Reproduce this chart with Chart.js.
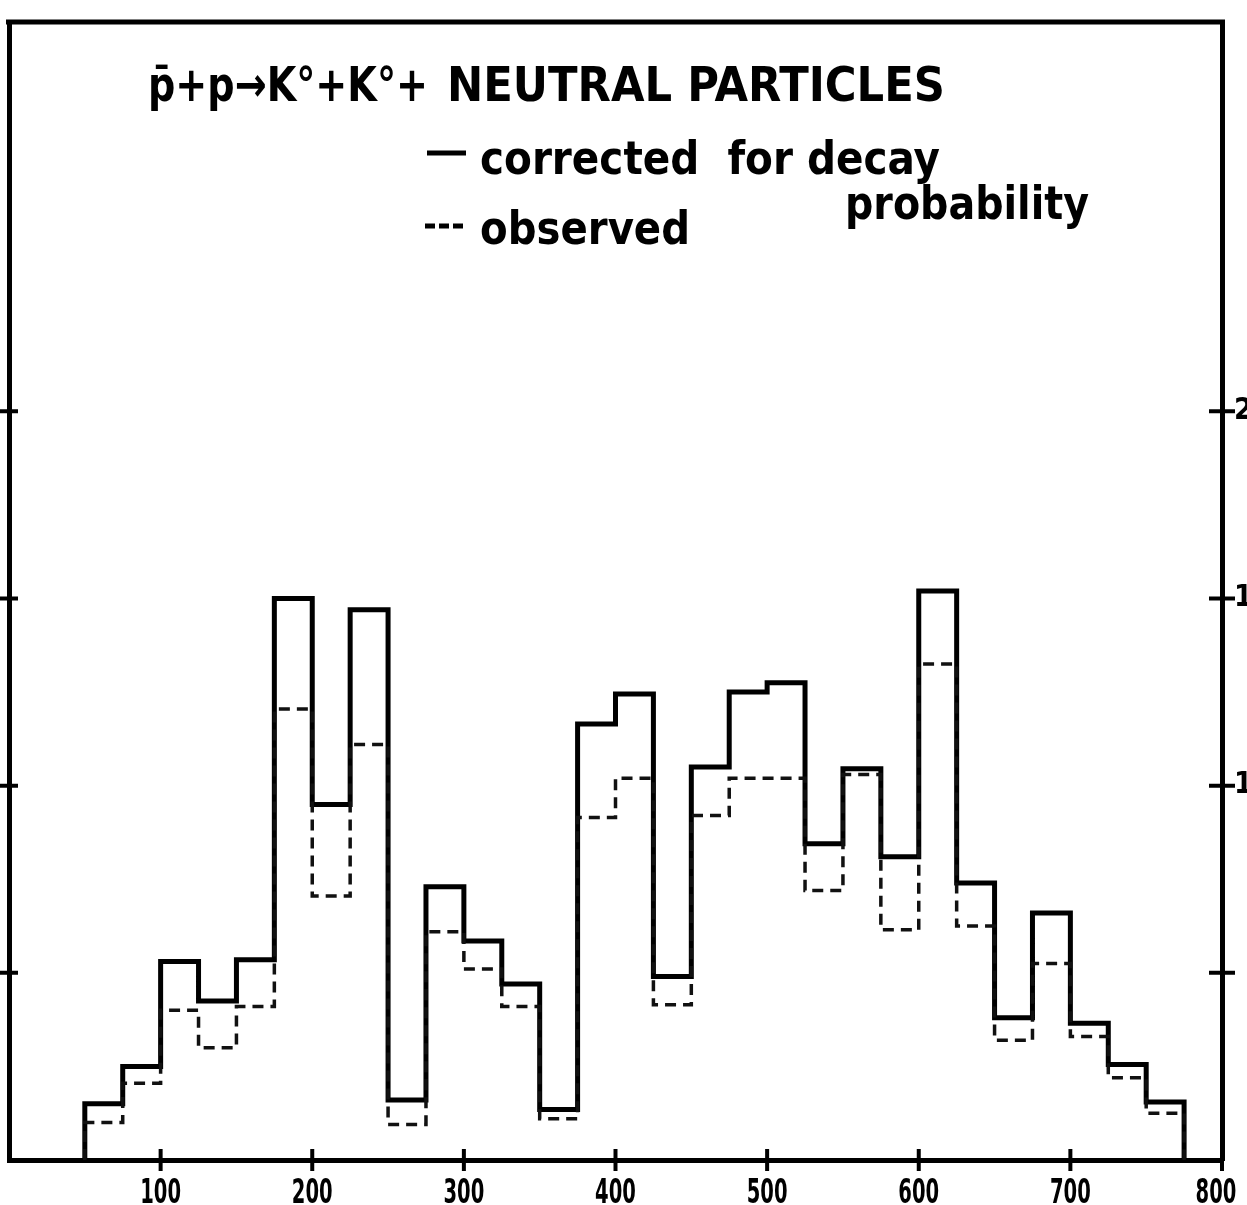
<!DOCTYPE html>
<html>
<head>
<meta charset="utf-8">
<script src="https://cdn.jsdelivr.net/npm/chart.js@4.4.1/dist/chart.umd.min.js"></script>
<style>
  html, body { margin: 0; padding: 0; background: #fff; overflow: hidden; }
  #histChart { display: block; }
</style>
</head>
<body>
<canvas id="histChart" width="1247" height="1205"></canvas>
<script>
// Lower edge of each 25-wide bin
const binStart = [50, 75, 100, 125, 150, 175, 200, 225, 250, 275, 300, 325, 350, 375,
                  400, 425, 450, 475, 500, 525, 550, 575, 600, 625, 650, 675, 700, 725, 750];
const binEnd = 775;

// Corrected for decay probability (solid)
const corrected = [1.5, 2.5, 5.3, 4.25, 5.35, 15.0, 9.5, 14.7, 1.6, 7.3, 5.85, 4.7, 1.35, 11.65,
                   12.45, 4.9, 10.5, 12.5, 12.75, 8.45, 10.45, 8.1, 15.2, 7.4, 3.8, 6.6, 3.65, 2.55, 1.55];

// Observed (dashed)
const observed = [1.0, 2.05, 4.0, 3.0, 4.1, 12.05, 7.05, 11.1, 0.95, 6.1, 5.1, 4.1, 1.1, 9.15,
                  10.2, 4.15, 9.2, 10.2, 10.2, 7.2, 10.3, 6.15, 13.25, 6.25, 3.2, 5.25, 3.3, 2.2, 1.25];

const xTicks = [100, 200, 300, 400, 500, 600, 700, 800];
const yTicks = [5, 10, 15, 20];
const yLabelled = [10, 15, 20];

const titleReaction = 'p\u0304+p\u2192K\u00b0+K\u00b0+';
const titleRest = 'NEUTRAL PARTICLES';
const legendSolid = 'corrected  for decay';
const legendSolid2 = 'probability';
const legendDashed = 'observed';

// Turn bins into step points: start on the baseline, close back down at the end
function histPoints(values) {
    const pts = [{ x: binStart[0], y: 0 }];
    values.forEach((v, i) => pts.push({ x: binStart[i], y: v }));
    pts.push({ x: binEnd, y: 0 });
    return pts;
}

const FONT = '"DejaVu Sans Condensed", "DejaVu Sans", sans-serif';

// Draw text squeezed horizontally (the original lettering is very narrow)
function squeezeText(ctx, text, x, y, sx, align) {
    ctx.save();
    ctx.translate(x, y);
    ctx.scale(sx, 1);
    ctx.textAlign = align || 'left';
    ctx.fillText(text, 0, 0);
    ctx.restore();
}

// Same, but squeezed to span a given width
function fitText(ctx, text, x, y, width) {
    const w = ctx.measureText(text).width;
    squeezeText(ctx, text, x, y, width / w);
}

// Frame, crossing tick marks, tick labels and the lettering
const decorPlugin = {
    id: 'decor',
    afterDraw(chart) {
        const { ctx, chartArea: a, scales } = chart;
        ctx.save();
        ctx.strokeStyle = '#000';
        ctx.fillStyle = '#000';
        ctx.lineCap = 'butt';

        // top of the frame
        ctx.lineWidth = 5;
        ctx.beginPath();
        ctx.moveTo(a.left - 3, a.top);
        ctx.lineTo(a.right + 3, a.top);
        ctx.stroke();

        // tick marks crossing the axes
        ctx.lineWidth = 4;
        xTicks.forEach(v => {
            const px = scales.x.getPixelForValue(v);
            ctx.beginPath();
            ctx.moveTo(px, a.bottom - 11);
            ctx.lineTo(px, a.bottom + 11);
            ctx.stroke();
        });
        yTicks.forEach(v => {
            const py = scales.y.getPixelForValue(v);
            ctx.beginPath();
            ctx.moveTo(a.left - 9, py);
            ctx.lineTo(a.left + 9, py);
            ctx.moveTo(a.right - 13, py);
            ctx.lineTo(a.right + 13, py);
            ctx.stroke();
        });

        // x tick labels
        ctx.textBaseline = 'alphabetic';
        ctx.font = 'bold 34px ' + FONT;
        xTicks.forEach(v => {
            const px = scales.x.getPixelForValue(v);
            squeezeText(ctx, String(v), v === 800 ? px - 6 : px, 1203, 0.64, 'center');
        });

        // title
        ctx.textAlign = 'left';
        ctx.font = 'bold 48px ' + FONT;
        fitText(ctx, titleReaction, 148, 101, 280);
        fitText(ctx, titleRest, 447, 101, 498);

        // legend
        ctx.font = 'bold 46px ' + FONT;
        fitText(ctx, legendSolid, 480, 174, 460);
        fitText(ctx, legendSolid2, 845, 219, 244);
        fitText(ctx, legendDashed, 480, 244, 210);

        ctx.lineWidth = 5;
        ctx.beginPath();
        ctx.moveTo(427, 153);
        ctx.lineTo(466, 153);
        ctx.stroke();
        ctx.setLineDash([10, 4]);
        ctx.beginPath();
        ctx.moveTo(425, 226);
        ctx.lineTo(466, 226);
        ctx.stroke();

        ctx.restore();
    }
};

function initChart() {
    const ctx = document.getElementById('histChart').getContext('2d');
    return new Chart(ctx, {
        type: 'line',
        data: {
            datasets: [
                {
                    label: 'observed',
                    data: histPoints(observed),
                    borderColor: '#111',
                    borderWidth: 3.5,
                    borderDash: [11, 7],
                    pointRadius: 0,
                    stepped: 'before',
                    fill: false
                },
                {
                    label: 'corrected for decay probability',
                    data: histPoints(corrected),
                    borderColor: '#000',
                    borderWidth: 5,
                    pointRadius: 0,
                    stepped: 'before',
                    fill: false
                }
            ]
        },
        options: {
            responsive: false,
            animation: false,
            layout: { autoPadding: false, padding: { top: 6, left: 0, right: 0, bottom: 0 } },
            plugins: {
                legend: { display: false },
                title: { display: false },
                tooltip: { enabled: false }
            },
            scales: {
                x: {
                    type: 'linear',
                    min: 0,
                    max: 800,
                    grid: { display: false },
                    border: { display: true, color: '#000', width: 5 },
                    ticks: { display: false, stepSize: 100 },
                    afterFit: s => { s.height = 45; }
                },
                y: {
                    position: 'left',
                    min: 0,
                    max: 30.4,
                    grid: { display: false },
                    border: { display: true, color: '#000', width: 5 },
                    ticks: { display: false, stepSize: 5 },
                    afterFit: s => { s.width = 9; }
                },
                y2: {
                    position: 'right',
                    min: 0,
                    max: 30.4,
                    grid: { display: false },
                    border: { display: true, color: '#000', width: 5 },
                    ticks: {
                        stepSize: 5,
                        color: '#000',
                        padding: 4,
                        font: { family: FONT, size: 30, weight: 'bold' },
                        callback: v => (yLabelled.includes(v) ? String(v) : '')
                    },
                    afterFit: s => { s.width = 25; }
                }
            }
        },
        plugins: [decorPlugin]
    });
}

document.addEventListener('DOMContentLoaded', function() {
    initChart();
});
</script>
</body>
</html>
